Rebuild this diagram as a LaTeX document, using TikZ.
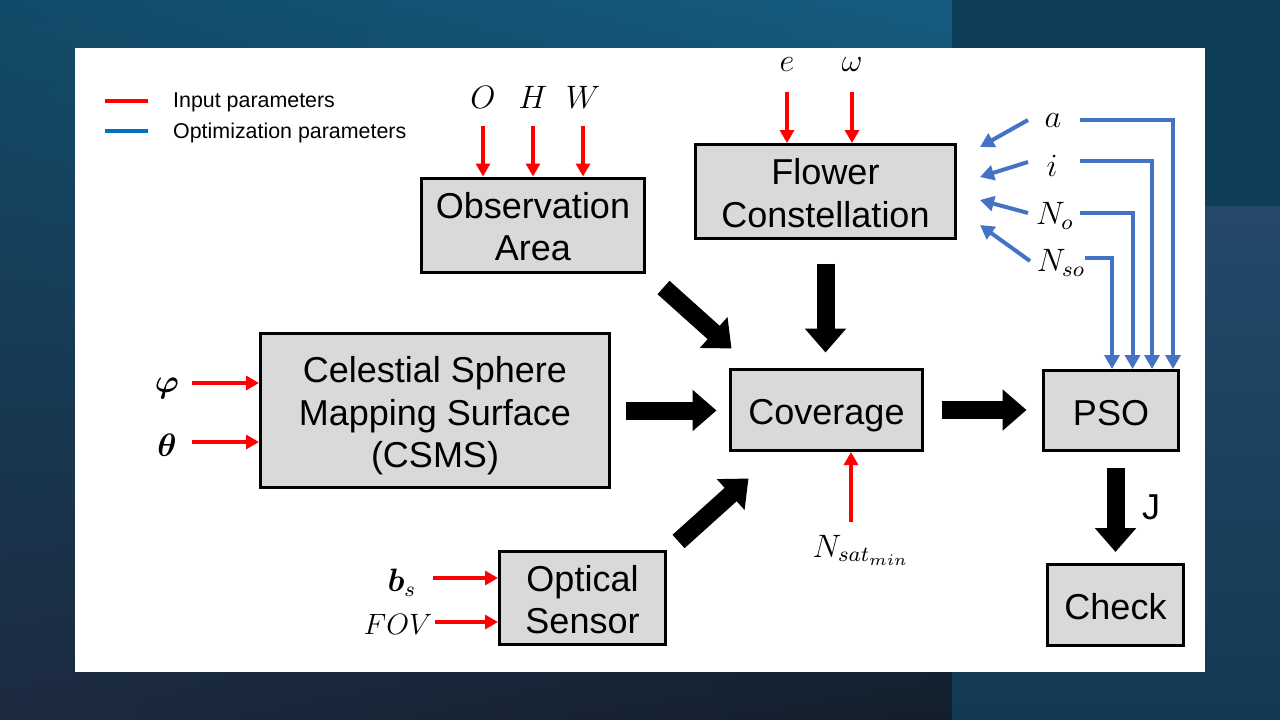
\documentclass[tikz,border=0pt]{standalone}
\usepackage{amsmath}
\usepackage{bm}
\usepackage{graphicx}
\usepackage{fontspec}
\setmainfont{Liberation Sans}
\usetikzlibrary{arrows.meta,calc,shadings}
\newcommand{\mathlbl}[1]{\scalebox{2.7}{$#1$}}
\definecolor{bgUL}{HTML}{124B69}
\definecolor{bgUR}{HTML}{155D80}
\definecolor{bgLL}{HTML}{1D2A40}
\definecolor{bgLR}{HTML}{131E2B}
\definecolor{bgRT}{HTML}{0F3F58}
\definecolor{bgRA}{HTML}{25486B}
\definecolor{bgRB}{HTML}{133A52}
\definecolor{boxgray}{HTML}{D9D9D9}
\definecolor{inred}{HTML}{FF0000}
\definecolor{optblue}{HTML}{4472C4}
\definecolor{legblue}{HTML}{0070C0}
\tikzset{
  blockbox/.style={draw=black, line width=3pt, fill=boxgray, align=center, inner sep=0pt,
    font=\fontsize{36}{42.5}\selectfont, text height=29pt, text depth=0pt},
  twolines/.style={text height=71.5pt},
  threelines/.style={text height=114pt},
  mlabel/.style={inner sep=1pt, font=\fontsize{12}{14}\selectfont},
  leglabel/.style={anchor=base west, inner sep=0pt, font=\fontsize{21.4}{25}\selectfont},
  redarr/.style={draw=inred, line width=4pt, -{Triangle[width=14pt,length=13pt]}},
  bluearr/.style={draw=optblue, line width=4pt, -{Triangle[width=15pt,length=14pt]}},
  blk/.style={draw=black, line width=18pt, -{Triangle[width=40pt,length=24pt]}},
}
\begin{document}
\begin{tikzpicture}[x=1pt,y=-1pt]
\useasboundingbox (0,0) rectangle (1280,720);
% background
\shade[upper left=bgUL, upper right=bgUR, lower left=bgLL, lower right=bgLR] (0,0) rectangle (952,720);
\fill[bgRT] (952,0) rectangle (1280,206);
\shade[top color=bgRA, bottom color=bgRB] (952,206) rectangle (1280,720);
\fill[white] (75,48) rectangle (1205,672);

% legend
\coordinate (lr1) at (105,101); \coordinate (lr2) at (148,101);
\coordinate (lb1) at (105,131); \coordinate (lb2) at (148,131);
\draw[inred, line width=4pt] (lr1) -- (lr2);
\draw[legblue, line width=4pt] (lb1) -- (lb2);
\node[leglabel] (legin) at (173,107.5) {Input parameters};
\node[leglabel] (legopt) at (173,138.5) {Optimization parameters};

% boxes
\node[blockbox, twolines, minimum width=223pt, minimum height=94pt] (obs) at (533,225) {Observation\\Area};
\node[blockbox, twolines, minimum width=260pt, minimum height=94pt] (flw) at (825.5,191.5) {Flower\\Constellation};
\node[blockbox, threelines, minimum width=349pt, minimum height=154pt] (csms) at (435,410.5) {Celestial Sphere\\Mapping Surface\\(CSMS)};
\node[blockbox, minimum width=192pt, minimum height=81pt] (cov) at (826.5,410) {Coverage};
\node[blockbox, minimum width=135pt, minimum height=80pt] (pso) at (1111,410.5) {PSO};
\node[blockbox, twolines, minimum width=166pt, minimum height=93pt] (opt) at (582.5,598) {Optical\\Sensor};
\node[blockbox, minimum width=136pt, minimum height=81pt] (chk) at (1115.5,605) {Check};

% block arrows
\draw[blk] ([shift={(17.5,14)}]obs.south east) -- ([shift={(2.5,-19.5)}]cov.north west);
\draw[blk, shorten <=23.5pt, shorten >=15.5pt] (flw.south) -- (flw.south |- cov.north);
\draw[blk, shorten <=14.5pt, shorten >=12.5pt] (csms.east) -- (csms.east -| cov.west);
\draw[blk] ([shift={(11.5,-8.5)}]opt.north east) -- ([shift={(19.5,26.5)}]cov.south west);
\draw[blk, shorten <=17.5pt, shorten >=15.5pt] (cov.east) -- (cov.east -| pso.west);
\draw[blk, shorten <=16pt, shorten >=11pt] (pso.south -| chk.north) -- (chk.north);
\node[blockbox, draw=none, fill=none] (jlab) at (1151,505) {J};

% observation area inputs
\node[mlabel] (lO) at (483,97) {\mathlbl{O}};
\node[mlabel] (lH) at (533,97) {\mathlbl{H}};
\node[mlabel] (lW) at (583,97) {\mathlbl{W}};
\coordinate (sO) at (483,126);
\coordinate (sH) at (533,126);
\coordinate (sW) at (583,126);
\draw[redarr] (sO) -- (sO |- obs.north);
\draw[redarr] (sH) -- (sH |- obs.north);
\draw[redarr] (sW) -- (sW |- obs.north);

% flower inputs
\node[mlabel] (le) at (787,65) {\mathlbl{e}};
\node[mlabel] (lw) at (852,65) {\mathlbl{\omega}};
\coordinate (se) at (787,92);
\coordinate (sw) at (852,92);
\draw[redarr] (se) -- (se |- flw.north);
\draw[redarr] (sw) -- (sw |- flw.north);

% CSMS inputs
\node[mlabel] (lphi) at (167,388) {\mathlbl{\bm{\varphi}}};
\node[mlabel] (lth) at (167,445) {\mathlbl{\bm{\theta}}};
\coordinate (sphi) at (192,383);
\coordinate (sth) at (192,442);
\draw[redarr] (sphi) -- (sphi -| csms.west);
\draw[redarr] (sth) -- (sth -| csms.west);

% optical sensor inputs
\node[mlabel] (lbs) at (402,583) {\mathlbl{\bm{b}_{s}}};
\node[mlabel] (lfov) at (398,624) {\scalebox{2.45}{$FOV$}};
\coordinate (sbs) at (433,578);
\coordinate (sfov) at (435,622);
\draw[redarr] (sbs) -- (sbs -| opt.west);
\draw[redarr] (sfov) -- (sfov -| opt.west);

% N_sat_min
\node[mlabel] (lnsat) at (861,550) {\mathlbl{N_{sat_{min}}}};
\coordinate (snsat) at (851,522);
\draw[redarr] (snsat) -- (snsat |- cov.south);

% optimization parameters
\node[mlabel] (la) at (1053,121) {\mathlbl{a}};
\node[mlabel] (li) at (1052,166) {\mathlbl{i}};
\node[mlabel] (lNo) at (1055,216) {\mathlbl{N_{o}}};
\node[mlabel] (lNso) at (1061,263) {\mathlbl{N_{so}}};
\coordinate (ta) at (980,147);
\coordinate (ti) at (980,177);
\coordinate (tNo) at (980,200);
\coordinate (tNso) at (980,225);
\coordinate (da) at (1028,120);
\coordinate (di) at (1028,162);
\coordinate (dNo) at (1028,213);
\coordinate (dNso) at (1030,261);
\draw[bluearr] (da) -- (ta);
\draw[bluearr] (di) -- (ti);
\draw[bluearr] (dNo) -- (tNo);
\draw[bluearr] (dNso) -- (tNso);
\coordinate (sa) at (1080,120);
\coordinate (si) at (1080,161);
\coordinate (sNo) at (1080,213);
\coordinate (sNso) at (1085,258);
\draw[bluearr] (sa) -| ([xshift=62pt]pso.north);
\draw[bluearr] (si) -| ([xshift=41pt]pso.north);
\draw[bluearr] (sNo) -| ([xshift=21.5pt]pso.north);
\draw[bluearr] (sNso) -| ([xshift=1pt]pso.north);
\end{tikzpicture}
\end{document}
